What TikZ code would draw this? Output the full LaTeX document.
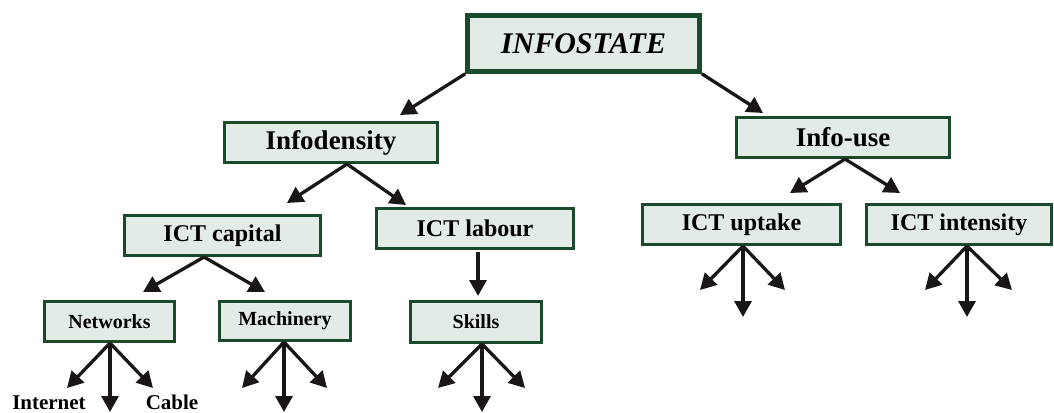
\documentclass[tikz,border=0pt]{standalone}
\usepackage{fontspec}
\setmainfont{Liberation Serif}
\usetikzlibrary{arrows.meta}
\definecolor{boxline}{RGB}{26,74,44}
\definecolor{boxfill}{RGB}{227,235,231}
\definecolor{arrowc}{RGB}{26,22,22}
\tikzset{
  box/.style={draw=boxline, fill=boxfill, line width=2.6pt, rectangle, inner sep=0pt, font=\bfseries},
  topbox/.style={box, line width=4.6pt, font=\bfseries\itshape\fontsize{30}{34}\selectfont},
  lvone/.style={box, font=\bfseries\fontsize{27}{30}\selectfont},
  lvtwo/.style={box, font=\bfseries\fontsize{24}{28}\selectfont},
  lvthree/.style={box, font=\bfseries\fontsize{20}{24}\selectfont},
  leaf/.style={font=\bfseries\fontsize{21}{24}\selectfont, anchor=base, inner sep=0pt},
  conn/.style={draw=arrowc, line width=3.3pt, -{Triangle[length=16pt,width=17pt]}}
}
\begin{document}
\begin{tikzpicture}[x=1pt,y=-1pt]
\useasboundingbox (0,0) rectangle (1054,412);
% boxes
\node[topbox, minimum width=232pt, minimum height=56pt] (top) at (583.5,43.5) {INFOSTATE};
\node[lvone, minimum width=213.5pt, minimum height=40.5pt] (idens) at (331,142.5) {Infodensity};
\node[lvone, minimum width=213.5pt, minimum height=40.5pt] (iuse) at (843,137.5) {Info-use};
\node[lvtwo, minimum width=196.5pt, minimum height=40.5pt] (cap) at (222.5,235.5) {ICT capital};
\node[lvtwo, minimum width=197.5pt, minimum height=40.5pt] (lab) at (475,228.5) {ICT labour};
\node[lvtwo, minimum width=198.5pt, minimum height=40.5pt] (upt) at (741.5,224.5) {ICT uptake};
\node[lvtwo, minimum width=185.5pt, minimum height=40.5pt] (int) at (959,224.5) {ICT intensity};
\node[lvthree, minimum width=130.5pt, minimum height=40.5pt] (net) at (109.5,321.5) {Networks};
\node[lvthree, minimum width=131.5pt, minimum height=39.5pt] (mach) at (285,321) {Machinery};
\node[lvthree, minimum width=131.5pt, minimum height=41.5pt] (skl) at (476,322) {Skills};
% leaf labels
\node[leaf] (inet) at (49,409.5) {Internet};
\node[leaf] (cable) at (172,409.5) {Cable};
% arrow tips
\coordinate (t1) at (400,115);
\coordinate (t2) at (763,113);
\coordinate (t3) at (287,203);
\coordinate (t4) at (406,205);
\coordinate (t5) at (790,193);
\coordinate (t6) at (900,193);
\coordinate (t7) at (143,292);
\coordinate (t8) at (265,292);
\coordinate (t9) at (478,296);
\coordinate (n1) at (67,388);
\coordinate (n2) at (110,412);
\coordinate (n3) at (153,388);
\coordinate (m1) at (242,388);
\coordinate (m2) at (284,412);
\coordinate (m3) at (327,388);
\coordinate (s1) at (438,388);
\coordinate (s2) at (482,412);
\coordinate (s3) at (525,388);
\coordinate (u1) at (700,290);
\coordinate (u2) at (743,317);
\coordinate (u3) at (785,290);
\coordinate (i1) at (925,290);
\coordinate (i2) at (967,317);
\coordinate (i3) at (1012,290);
% connectors
\draw[conn] (top.south west) -- (t1);
\draw[conn] (top.south east) -- (t2);
\draw[conn] ([xshift=16pt]idens.south) -- (t3);
\draw[conn] ([xshift=16pt]idens.south) -- (t4);
\draw[conn] ([xshift=2pt]iuse.south) -- (t5);
\draw[conn] ([xshift=2pt]iuse.south) -- (t6);
\draw[conn] ([xshift=-18.5pt]cap.south) -- (t7);
\draw[conn] ([xshift=-18.5pt]cap.south) -- (t8);
\draw[conn] ([xshift=3pt,yshift=-2pt]lab.south) -- (t9);
\foreach \t in {n1,n2,n3} \draw[conn] ([xshift=0.5pt]net.south) -- (\t);
\foreach \t in {m1,m2,m3} \draw[conn] ([xshift=-1pt]mach.south) -- (\t);
\foreach \t in {s1,s2,s3} \draw[conn] ([xshift=6pt]skl.south) -- (\t);
\foreach \t in {u1,u2,u3} \draw[conn] ([xshift=1.5pt]upt.south) -- (\t);
\foreach \t in {i1,i2,i3} \draw[conn] ([xshift=8pt]int.south) -- (\t);
\end{tikzpicture}
\end{document}
